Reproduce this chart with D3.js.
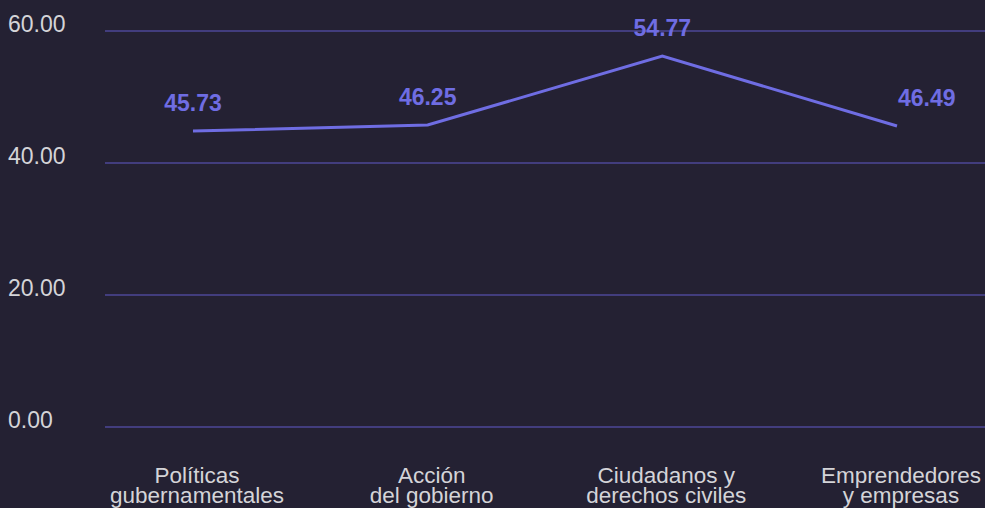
<!DOCTYPE html>
<html>
<head>
<meta charset="utf-8">
<script src="https://cdn.jsdelivr.net/npm/d3@7"></script>
<style>
  body { margin: 0; background: #242133; }
  svg { display: block; }
  .tick-label { fill: #d4d4d8; font-family: "Liberation Sans", Arial, sans-serif; font-size: 23px; }
  .cat-label { fill: #d4d4d8; font-family: "Liberation Sans", Arial, sans-serif; font-size: 22.5px; }
  .value-label { fill: #6f6de3; font-family: "Liberation Sans", Arial, sans-serif; font-size: 23px; font-weight: bold; }
</style>
</head>
<body>
<script>
(function () {

    //chart data
    var categories = [
        ["Políticas", "gubernamentales"],
        ["Acción", "del gobierno"],
        ["Ciudadanos y", "derechos civiles"],
        ["Emprendedores", "y empresas"]
    ];
    var lineValues = [44.85, 45.75, 56.2, 45.6];     //plotted line (as drawn)
    var labelValues = [45.73, 46.25, 54.77, 46.49];  //printed labels
    var yTicks = [0, 20, 40, 60];

    var width = 985,
        height = 508,
        left = 105,
        right = 985,
        top = 31,
        bottom = 427;

    var svg = d3.select("body")
        .append("svg")
        .attr("width", width)
        .attr("height", height);

    var x = d3.scalePoint()
        .domain(d3.range(categories.length))
        .range([left, right])
        .padding(0.375);

    var y = d3.scaleLinear()
        .domain([0, 60])
        .range([bottom, top]);

    //gridlines
    svg.selectAll(".grid")
        .data(yTicks)
        .enter()
        .append("line")
        .attr("class", "grid")
        .attr("x1", left)
        .attr("x2", right)
        .attr("y1", function (d) { return y(d); })
        .attr("y2", function (d) { return y(d); })
        .attr("stroke", "#4d4799")
        .attr("stroke-width", 1.3);

    //y tick labels
    svg.selectAll(".tick-label")
        .data(yTicks)
        .enter()
        .append("text")
        .attr("class", "tick-label")
        .attr("x", 8)
        .attr("y", function (d) { return y(d) + 1; })
        .text(function (d) { return d.toFixed(2); });

    //the line
    var line = d3.line()
        .x(function (d, i) { return x(i); })
        .y(function (d) { return y(d); });

    svg.append("path")
        .datum(lineValues)
        .attr("d", line)
        .attr("fill", "none")
        .attr("stroke", "#6f6de3")
        .attr("stroke-width", 3);

    //value labels
    svg.selectAll(".value-label")
        .data(labelValues)
        .enter()
        .append("text")
        .attr("class", "value-label")
        .attr("text-anchor", function (d, i) { return i === labelValues.length - 1 ? "start" : "middle"; })
        .attr("x", function (d, i) { return x(i) + (i === labelValues.length - 1 ? 1 : 0); })
        .attr("y", function (d, i) { return y(lineValues[i]) - 20; })
        .text(function (d) { return d.toFixed(2); });

    //category labels
    var cats = svg.selectAll(".cat-label")
        .data(categories)
        .enter()
        .append("text")
        .attr("class", "cat-label")
        .attr("text-anchor", "middle")
        .attr("x", function (d, i) { return x(i) + 4; })
        .attr("y", 483);

    cats.selectAll("tspan")
        .data(function (d) { return d; })
        .enter()
        .append("tspan")
        .attr("x", function () { return d3.select(this.parentNode).attr("x"); })
        .attr("dy", function (d, i) { return i === 0 ? 0 : 20; })
        .text(function (d) { return d; });

})();
</script>
</body>
</html>
